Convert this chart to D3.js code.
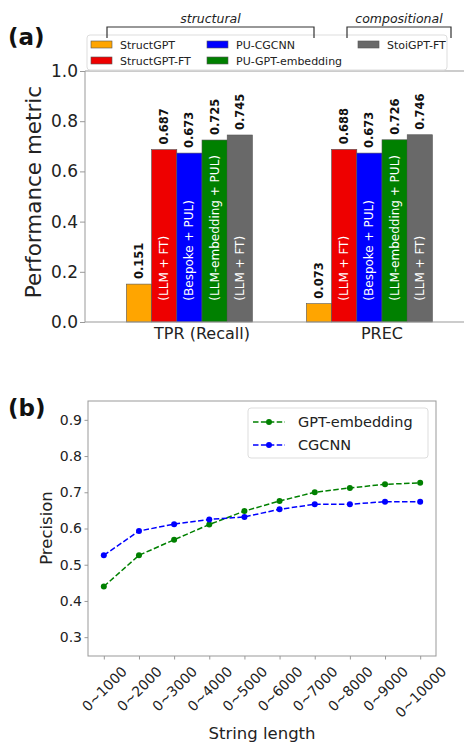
<!doctype html>
<meta charset="utf-8">
<head>
<script src="https://d3js.org/d3.v7.min.js"></script>
<style>
  body { margin: 0; background: #fff; }
  text { font-family: "DejaVu Sans", sans-serif; fill: #222; }
</style>
</head>
<body>
<svg width="464" height="745"></svg>
<script>
    // panel (a) data
    let metrics = ["TPR (Recall)", "PREC"];
    let models = ["StructGPT", "StructGPT-FT", "PU-CGCNN", "PU-GPT-embedding", "StoiGPT-FT"];
    let modelNotes = ["", "(LLM + FT)", "(Bespoke + PUL)", "(LLM-embedding + PUL)", "(LLM + FT)"];
    let modelColors = ["#ffa500", "#ee0000", "#0000ff", "#008000", "#696969"];
    let tprValues = [0.151, 0.687, 0.673, 0.725, 0.745];
    let precValues = [0.073, 0.688, 0.673, 0.726, 0.746];
    let yTicksA = [0.0, 0.2, 0.4, 0.6, 0.8, 1.0];

    // panel (b) data
    let lengthBins = ["0~1000", "0~2000", "0~3000", "0~4000", "0~5000",
                      "0~6000", "0~7000", "0~8000", "0~9000", "0~10000"];
    let gptEmbedding = [0.440, 0.526, 0.569, 0.611, 0.648, 0.676, 0.700, 0.712, 0.722, 0.726];
    let cgcnn = [0.526, 0.593, 0.612, 0.625, 0.632, 0.653, 0.667, 0.667, 0.674, 0.674];
    let yTicksB = [0.3, 0.4, 0.5, 0.6, 0.7, 0.8, 0.9];

    let svg = d3.select("svg");
    let spine = "#999";

    //
    // (a) bar chart
    //
    let ga = svg.append("g");
    let xA = d3.scaleLinear().domain([-0.65, 1.65]).range([85, 499]);
    let yA = d3.scaleLinear().domain([0, 1]).range([322, 71]);
    let barW = 0.14;
    let wPx = xA(barW) - xA(0);

    let barData = [];
    [tprValues, precValues].forEach((vals, gi) => {
        vals.forEach((v, i) => barData.push({ g: gi, i: i, v: v }));
    });

    ga.selectAll(".bar")
        .data(barData)
        .enter().append("rect")
        .attr("class", "bar")
        .attr("x", (d) => xA(d.g + (d.i - 3) * barW))
        .attr("y", (d) => yA(d.v))
        .attr("width", wPx)
        .attr("height", (d) => yA(0) - yA(d.v))
        .attr("fill", (d) => modelColors[d.i])
        .attr("stroke", "#555")
        .attr("stroke-width", 0.6);

    // values on top
    ga.selectAll(".val")
        .data(barData)
        .enter().append("text")
        .attr("transform", (d) =>
            `translate(${xA(d.g + (d.i - 2.5) * barW)},${yA(d.v) - 5}) rotate(-90)`)
        .attr("dominant-baseline", "central")
        .attr("font-size", 11.5)
        .attr("font-weight", "bold")
        .style("fill", "#111")
        .text((d) => d.v.toFixed(3));

    // method notes inside bars
    ga.selectAll(".note")
        .data(barData.filter((d) => modelNotes[d.i]))
        .enter().append("text")
        .attr("transform", (d) =>
            `translate(${xA(d.g + (d.i - 2.5) * barW)},${yA(0.085)}) rotate(-90)`)
        .attr("dominant-baseline", "central")
        .attr("font-size", 12)
        .style("fill", "#fff")
        .text((d) => modelNotes[d.i]);

    // spines
    ga.append("line").attr("x1", 85).attr("x2", 85).attr("y1", 71).attr("y2", 322)
        .attr("stroke", spine);
    ga.append("line").attr("x1", 85).attr("x2", 464).attr("y1", 322).attr("y2", 322)
        .attr("stroke", spine);
    ga.append("line").attr("x1", 85).attr("x2", 464).attr("y1", 71).attr("y2", 71)
        .attr("stroke", spine);

    let yAxisA = d3.axisLeft(yA).tickValues(yTicksA).tickFormat(d3.format(".1f")).tickSize(5);
    let yaG = ga.append("g").attr("transform", "translate(85,0)").call(yAxisA);
    yaG.select(".domain").remove();
    yaG.selectAll("line").attr("stroke", spine);
    yaG.selectAll("text").attr("font-size", 17).attr("x", -7)
        .style("font-family", "DejaVu Sans").style("fill", "#222");

    ga.selectAll(".cat")
        .data(metrics)
        .enter().append("text")
        .attr("x", (d, i) => xA(i))
        .attr("y", 339)
        .attr("text-anchor", "middle")
        .attr("font-size", 16)
        .text((d) => d);

    ga.append("text")
        .attr("transform", "translate(41,192) rotate(-90)")
        .attr("text-anchor", "middle")
        .attr("font-size", 21.5)
        .text("Performance metric");

    // legend (a)
    ga.append("rect")
        .attr("x", 87).attr("y", 35).attr("width", 360).attr("height", 35)
        .attr("rx", 3)
        .attr("fill", "#fff").attr("fill-opacity", 0.85)
        .attr("stroke", "#ddd");
    let legPos = [[91, 41], [91, 57], [207, 41], [207, 57], [358, 41]];
    models.forEach((m, i) => {
        let p = legPos[i];
        ga.append("rect").attr("x", p[0]).attr("y", p[1]).attr("width", 21).attr("height", 7)
            .attr("fill", modelColors[i]).attr("stroke", "#555").attr("stroke-width", 0.6);
        ga.append("text").attr("x", p[0] + 29).attr("y", p[1] + 7.5)
            .attr("font-size", 11).text(m);
    });

    // brackets
    let brackets = [
        { name: "structural", x1: 107, x2: 314 },
        { name: "compositional", x1: 347, x2: 451 }
    ];
    brackets.forEach((b) => {
        ga.append("path")
            .attr("d", `M${b.x1} 38 L${b.x1} 27 L${b.x2} 27 L${b.x2} 38`)
            .attr("fill", "none").attr("stroke", "#333").attr("stroke-width", 1.2);
        ga.append("text").attr("x", (b.x1 + b.x2) / 2).attr("y", 23)
            .attr("text-anchor", "middle").attr("font-size", 12.5)
            .attr("font-style", "italic").text(b.name);
    });

    svg.append("text").attr("x", 8).attr("y", 45)
        .attr("font-size", 23).attr("font-weight", "bold").style("fill", "#111")
        .text("(a)");

    //
    // (b) line chart
    //
    let gb = svg.append("g");
    let xB = d3.scaleLinear().domain([-0.45, 9.45]).range([88, 436]);
    let yB = d3.scaleLinear().domain([0.248, 0.952]).range([656, 401]);

    gb.append("rect").attr("x", 88).attr("y", 401).attr("width", 348).attr("height", 255)
        .attr("fill", "none").attr("stroke", spine);

    let yAxisB = d3.axisLeft(yB).tickValues(yTicksB).tickFormat(d3.format(".1f")).tickSize(3.5);
    let ybG = gb.append("g").attr("transform", "translate(88,0)").call(yAxisB);
    ybG.select(".domain").remove();
    ybG.selectAll("line").attr("stroke", spine);
    ybG.selectAll("text").attr("font-size", 14).attr("x", -6)
        .style("font-family", "DejaVu Sans").style("fill", "#222");

    let xAxisB = d3.axisBottom(xB).tickValues(d3.range(lengthBins.length)).tickSize(3.5)
        .tickFormat((i) => lengthBins[i]);
    let xbG = gb.append("g").attr("transform", "translate(0,656)").call(xAxisB);
    xbG.select(".domain").remove();
    xbG.selectAll("line").attr("stroke", spine);
    xbG.selectAll("text")
        .attr("font-size", 14)
        .style("font-family", "DejaVu Sans").style("fill", "#222")
        .attr("y", 0).attr("dy", null)
        .attr("text-anchor", "middle")
        .attr("dominant-baseline", "central")
        .attr("transform", function() {
            let L = this.getComputedTextLength();
            let h = (L + 14) * Math.SQRT1_2;
            return `translate(0,${8 + h / 2}) rotate(-45)`;
        });

    let series = [
        { name: "GPT-embedding", vals: gptEmbedding, color: "#008000" },
        { name: "CGCNN", vals: cgcnn, color: "#0000ff" }
    ];
    let line = d3.line().x((d, i) => xB(i)).y((d) => yB(d));
    series.forEach((s) => {
        gb.append("path").attr("d", line(s.vals))
            .attr("fill", "none").attr("stroke", s.color)
            .attr("stroke-width", 1.5).attr("stroke-dasharray", "5.5,2.4");
        gb.selectAll(null).data(s.vals).enter().append("circle")
            .attr("cx", (d, i) => xB(i)).attr("cy", (d) => yB(d))
            .attr("r", 3).attr("fill", s.color);
    });

    // legend (b)
    gb.append("rect").attr("x", 248).attr("y", 408).attr("width", 180).attr("height", 50)
        .attr("rx", 3).attr("fill", "#fff").attr("fill-opacity", 0.85).attr("stroke", "#ddd");
    series.forEach((s, i) => {
        let cy = 422 + i * 23;
        gb.append("line").attr("x1", 253).attr("x2", 285).attr("y1", cy).attr("y2", cy)
            .attr("stroke", s.color).attr("stroke-width", 1.5).attr("stroke-dasharray", "5.5,2.4");
        gb.append("circle").attr("cx", 269).attr("cy", cy).attr("r", 3).attr("fill", s.color);
        gb.append("text").attr("x", 298).attr("y", cy + 5).attr("font-size", 14.5).text(s.name);
    });

    gb.append("text").attr("x", 262).attr("y", 739).attr("text-anchor", "middle")
        .attr("font-size", 16.5).text("String length");
    gb.append("text").attr("transform", "translate(52,528) rotate(-90)")
        .attr("text-anchor", "middle").attr("font-size", 16.5).text("Precision");

    svg.append("text").attr("x", 8).attr("y", 416)
        .attr("font-size", 23).attr("font-weight", "bold").style("fill", "#111")
        .text("(b)");
</script>
</body>
